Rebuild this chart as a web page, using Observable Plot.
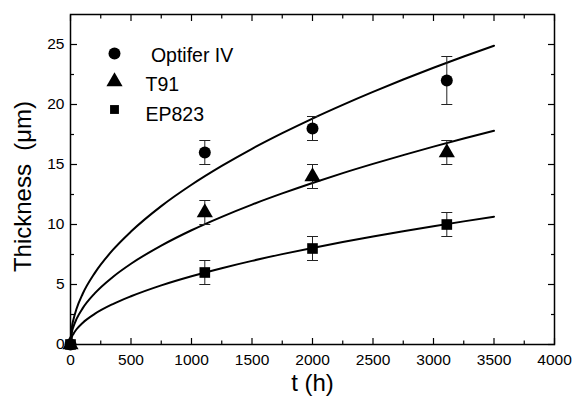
<!DOCTYPE html>
<html><head><meta charset="utf-8">
<script src="https://cdn.jsdelivr.net/npm/d3@7"></script>
<script src="https://cdn.jsdelivr.net/npm/@observablehq/plot@0.6"></script>
<style>body{margin:0;background:#fff}</style>
</head><body><div id="chart"></div>
<script>
// Categories / series
const series = ["Optifer IV", "T91", "EP823"];
const symbols = ["circle", "triangle", "square"];

// Measured points (t in h, thickness in µm) with error half-widths
const times = [0, 1110, 2000, 3110];
const optiferVals = [0, 16, 18, 22];
const optiferErr  = [0, 1, 1, 2];
const t91Vals     = [0, 11, 14, 16];
const t91Err      = [0, 1, 1, 1];
const ep823Vals   = [0, 6, 8, 10];
const ep823Err    = [0, 1, 1, 1];

// Fit curves
const fitTimes   = [0, 10, 25, 50, 100, 200, 350, 500, 750, 1000, 1250, 1500, 1750, 2000, 2250, 2500, 2750, 3000, 3250, 3500];
const optiferFit = [0, 1.33, 2.1, 2.98, 4.21, 5.95, 7.88, 9.41, 11.53, 13.31, 14.88, 16.31, 17.61, 18.83, 19.97, 21.05, 22.08, 23.06, 24.0, 24.9];
const t91Fit     = [0, 0.95, 1.5, 2.13, 3.01, 4.26, 5.63, 6.73, 8.24, 9.52, 10.64, 11.66, 12.59, 13.46, 14.28, 15.05, 15.78, 16.49, 17.16, 17.81];
const ep823Fit   = [0, 0.57, 0.9, 1.27, 1.8, 2.55, 3.37, 4.02, 4.93, 5.69, 6.36, 6.97, 7.53, 8.05, 8.54, 9.0, 9.44, 9.86, 10.26, 10.65];

// Tick values
const xMajor = [0, 500, 1000, 1500, 2000, 2500, 3000, 3500, 4000];
const xMinor = [250, 750, 1250, 1750, 2250, 2750, 3250, 3750];
const yMajor = [0, 5, 10, 15, 20, 25];
const yMinor = [2.5, 7.5, 12.5, 17.5, 22.5];

const vals = [optiferVals, t91Vals, ep823Vals];
const errs = [optiferErr, t91Err, ep823Err];
const fits = [optiferFit, t91Fit, ep823Fit];

const points = series.flatMap((s, i) => times.map((t, j) => ({
  series: s, symbol: symbols[i], t, v: vals[i][j], lo: vals[i][j] - errs[i][j], hi: vals[i][j] + errs[i][j], e: errs[i][j]
})));
const bars = points.filter(d => d.e > 0);
const curves = series.flatMap((s, i) => fitTimes.map((t, j) => ({series: s, t, v: fits[i][j]})));

const cap = {draw(ctx, size) { const w = Math.sqrt(size / Math.PI); ctx.moveTo(-w, 0); ctx.lineTo(w, 0); }};

const font = "'Liberation Sans', Arial, Helvetica, sans-serif";
const tickOpts = (ticks, size, anchor) => ({ticks, tickSize: -size, tickFormat: () => "", label: null, anchor, strokeWidth: 1.2});

const legendMarks = series.flatMap((s, i) => [
  Plot.dot([s], {frameAnchor: "top-left", dx: 44, dy: 39 + i * 28, symbol: symbols[i], r: i === 2 ? 5 : 6, fill: "black", stroke: "none"}),
  Plot.text([i === 0 ? "\u00a0" + s : s], {frameAnchor: "top-left", dx: 75, dy: 41 + i * 29.5, textAnchor: "start", lineAnchor: "middle", fontSize: 19.5, fill: "black"})
]);

const chart = Plot.plot({
  width: 572, height: 402,
  marginLeft: 70, marginRight: 18, marginTop: 14, marginBottom: 58,
  style: {fontFamily: font, fontSize: "15.5px", color: "black", background: "white"},
  x: {domain: [0, 4000]},
  y: {domain: [0, 27.5]},
  symbol: {domain: series, range: symbols},
  marks: [
    Plot.axisX(tickOpts(xMajor, 6, "bottom")),
    Plot.axisX(tickOpts(xMinor, 3.5, "bottom")),
    Plot.axisX(tickOpts(xMajor, 6, "top")),
    Plot.axisX(tickOpts(xMinor, 3.5, "top")),
    Plot.axisY(tickOpts(yMajor, 7, "left")),
    Plot.axisY(tickOpts(yMinor, 4, "left")),
    Plot.axisY(tickOpts(yMajor, 7, "right")),
    Plot.axisY(tickOpts(yMinor, 4, "right")),
    Plot.axisX({ticks: xMajor, tickSize: 0, tickPadding: 9, label: null, anchor: "bottom", fill: "black", tickFormat: d3.format("d")}),
    Plot.axisY({ticks: yMajor, tickSize: 0, tickPadding: 6, label: null, anchor: "left", fill: "black", tickFormat: d3.format("d")}),
    Plot.line(curves, {x: "t", y: "v", z: "series", stroke: "black", strokeWidth: 2, curve: "monotone-x"}),
    Plot.ruleX(bars, {x: "t", y1: "lo", y2: "hi", stroke: "#222", strokeWidth: 1}),
    Plot.dot(bars, {x: "t", y: "lo", symbol: () => cap, r: 5.5, stroke: "#222", strokeWidth: 1, fill: "none"}),
    Plot.dot(bars, {x: "t", y: "hi", symbol: () => cap, r: 5.5, stroke: "#222", strokeWidth: 1, fill: "none"}),
    Plot.dot(points, {x: "t", y: "v", symbol: "series", r: 6, fill: "black", stroke: "none"}),
    ...legendMarks,
    Plot.frame({stroke: "black", strokeWidth: 1.5}),
    Plot.text(["t (h)"], {frameAnchor: "bottom", dy: 39, textAnchor: "middle", lineAnchor: "middle", fontSize: 24, fill: "black"}),
    Plot.text(["Thickness\u00a0\u00a0(\u03bcm)"], {frameAnchor: "left", dx: -47, dy: 7, rotate: -90, textAnchor: "middle", lineAnchor: "middle", fontSize: 24, fill: "black"})
  ]
});
document.getElementById("chart").appendChild(chart);
</script>
</body></html>
